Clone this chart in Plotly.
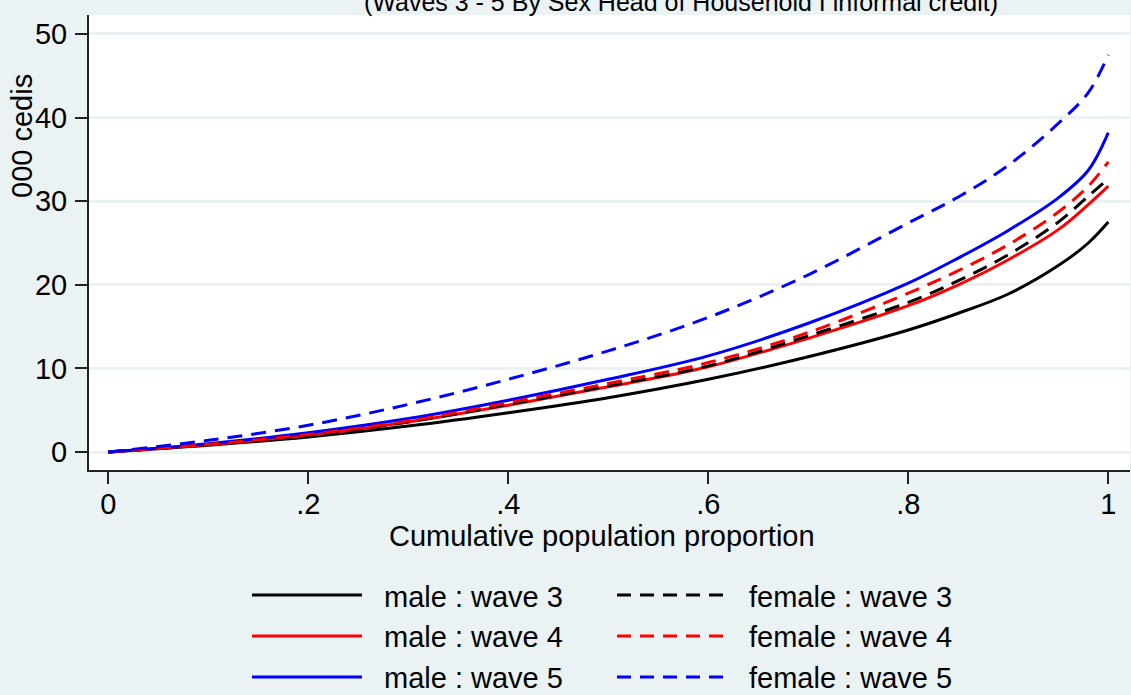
import plotly.graph_objects as go

# ---- data ----
pop_share = [0, 0.1, 0.2, 0.3, 0.4, 0.5, 0.6, 0.7, 0.8, 0.85, 0.9, 0.95, 0.98, 1.0]
male_w3 = [0, 0.8, 1.8, 3.1, 4.7, 6.5, 8.7, 11.4, 14.6, 16.6, 18.9, 22.3, 25.0, 27.5]
male_w4 = [0, 0.9, 2.0, 3.6, 5.6, 7.8, 10.2, 13.6, 17.5, 20.0, 23.0, 26.6, 29.6, 31.8]
male_w5 = [0, 1.0, 2.3, 4.0, 6.2, 8.7, 11.5, 15.4, 20.2, 23.2, 26.5, 30.4, 33.7, 38.2]
female_w3 = [0, 0.9, 2.0, 3.6, 5.7, 7.9, 10.3, 13.9, 17.9, 20.5, 23.6, 27.5, 30.6, 32.7]
female_w4 = [0, 0.9, 2.1, 3.7, 5.9, 8.2, 10.7, 14.3, 19.0, 21.7, 24.8, 28.7, 31.8, 34.7]
female_w5 = [0, 1.4, 3.2, 5.7, 8.7, 12.1, 16.1, 21.2, 27.4, 30.5, 34.3, 39.3, 43.0, 47.5]

x_ticks = [0, 0.2, 0.4, 0.6, 0.8, 1.0]
x_ticklabels = ["0", ".2", ".4", ".6", ".8", "1"]
y_ticks = [0, 10, 20, 30, 40, 50]

series = [
    ("male : wave 3", male_w3, "#000000", "solid"),
    ("male : wave 4", male_w4, "#FF0000", "solid"),
    ("male : wave 5", male_w5, "#0000FF", "solid"),
    ("female : wave 3", female_w3, "#000000", "15px,9px"),
    ("female : wave 4", female_w4, "#FF0000", "15px,9px"),
    ("female : wave 5", female_w5, "#0000FF", "15px,9px"),
]

BG = "#EAF2F3"
FONT = "Liberation Sans, Arial, sans-serif"
W, H = 1131, 695
L, R, T, B = 89, 1130, 15, 470

def px_x(p):
    return (p - L) / (R - L)

def px_y(p):
    return (B - p) / (B - T)

fig = go.Figure()
for name, ys, color, dash in series:
    fig.add_trace(go.Scatter(
        x=pop_share, y=ys, mode="lines", name=name,
        line=dict(color=color, width=3, dash=dash, shape="spline", smoothing=1.0),
        showlegend=False,
    ))

fig.update_layout(
    width=W, height=H,
    margin=dict(l=L, r=W - R, t=T, b=H - B, pad=0),
    paper_bgcolor=BG, plot_bgcolor="white",
    font=dict(family=FONT, size=29, color="black"),
    showlegend=False,
)
fig.update_xaxes(
    range=[-0.0193, 1.0217], tickvals=x_ticks, ticktext=x_ticklabels,
    showgrid=False, zeroline=False,
    showline=True, linecolor="#222222", linewidth=2,
    ticks="outside", ticklen=12, tickwidth=2, tickcolor="#222222",
    tickfont=dict(size=29), ticklabelstandoff=-5,
)
fig.update_yaxes(
    range=[-2.15, 52.27], tickvals=y_ticks,
    showgrid=True, gridcolor=BG, gridwidth=3, zeroline=False,
    showline=True, linecolor="#222222", linewidth=2,
    ticks="outside", ticklen=12, tickwidth=2, tickcolor="#222222",
    tickfont=dict(size=29), ticklabelstandoff=2,
)

ann = []
# cut-off title
ann.append(dict(text="(Waves 3 - 5 By Sex Head of Household I informal credit)",
                x=px_x(681), y=px_y(18), xref="paper", yref="paper",
                xanchor="center", yanchor="bottom", showarrow=False,
                font=dict(size=25)))
# axis titles
ann.append(dict(text="Cumulative population proportion",
                x=px_x(602), y=px_y(536), xref="paper", yref="paper",
                xanchor="center", yanchor="middle", showarrow=False,
                font=dict(size=29)))
ann.append(dict(text="000 cedis", textangle=-90,
                x=px_x(22), y=px_y(136), xref="paper", yref="paper",
                xanchor="center", yanchor="middle", showarrow=False,
                font=dict(size=29)))

# manual two-column legend
shapes = []
line_rows = [595, 636, 677]
text_rows = [597, 637, 678]
cols = [(252, 362, 382), (617, 728, 747)]
for i, (name, ys, color, dash) in enumerate(series):
    col = i // 3
    row = i % 3
    x0, x1, xt = cols[col]
    shapes.append(dict(type="line", xref="paper", yref="paper",
                       x0=px_x(x0), x1=px_x(x1), y0=px_y(line_rows[row]), y1=px_y(line_rows[row]),
                       line=dict(color=color, width=3,
                                 dash="solid" if dash == "solid" else "14px,9px")))
    ann.append(dict(text=name, x=px_x(xt), y=px_y(text_rows[row]),
                    xref="paper", yref="paper", xanchor="left", yanchor="middle",
                    showarrow=False, font=dict(size=29)))

fig.update_layout(annotations=ann, shapes=shapes)
fig.write_html("out.html")
